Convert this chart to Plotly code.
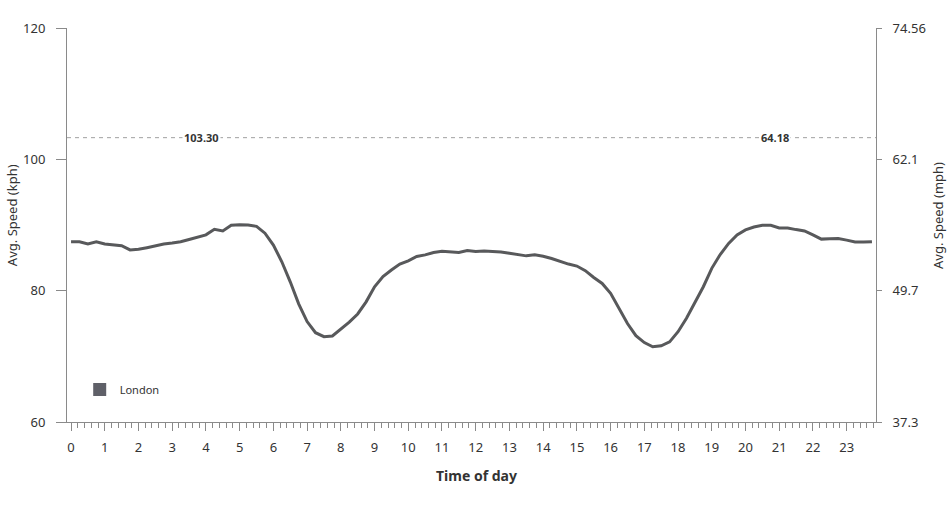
import plotly.graph_objects as go

hours = [i * 0.25 for i in range(96)]
speed_kph = [
    87.45, 87.45, 87.1, 87.45, 87.1, 87.0, 86.85, 86.2,
    86.3, 86.55, 86.85, 87.1, 87.25, 87.45, 87.8, 88.15,
    88.5, 89.35, 89.1, 89.95, 90.05, 90.0, 89.8, 88.75,
    86.95, 84.4, 81.35, 78.0, 75.3, 73.6, 73.0, 73.1,
    74.1, 75.2, 76.45, 78.3, 80.6, 82.15, 83.15, 84.05,
    84.55, 85.2, 85.45, 85.8, 86.0, 85.95, 85.8, 86.1,
    85.95, 86.05, 86.0, 85.9, 85.7, 85.5, 85.3, 85.45,
    85.25, 84.9, 84.45, 84.05, 83.75, 83.05, 82.0, 81.1,
    79.6, 77.3, 75.0, 73.15, 72.1, 71.45, 71.6, 72.2,
    73.75, 75.8, 78.1, 80.6, 83.4, 85.5, 87.2, 88.5,
    89.25, 89.7, 89.95, 89.95, 89.55, 89.55, 89.3, 89.1,
    88.5, 87.85, 87.9, 87.95, 87.7, 87.4, 87.4, 87.45,
]
series_name = "London"
ref_kph = 103.30
ref_mph = 64.18
kph_ticks = [60, 80, 100, 120]
mph_tick_labels = ["37.3", "49.7", "62.1", "74.56"]
x_ticks = list(range(24))
KPH_TO_MPH = 0.621371

x_range = [-0.12, 23.87]
y_range = [60, 120]

line_color = "#58595b"
axis_color = "#8a8a8a"
text_color = "#333333"
font_family = "Noto Sans, Open Sans, sans-serif"

fig = go.Figure()

fig.add_trace(go.Scatter(
    x=x_range, y=[ref_kph, ref_kph], mode="lines",
    line=dict(color="#a0a0a0", width=1, dash="4px,4px"),
    showlegend=False, hoverinfo="skip",
))

fig.add_trace(go.Scatter(
    x=hours, y=speed_kph, mode="lines",
    line=dict(color=line_color, width=3),
    showlegend=False, name=series_name,
))

fig.add_trace(go.Scatter(
    x=[None], y=[None], mode="markers", name=series_name,
    marker=dict(symbol="square", size=13, color="#5f6068"),
    showlegend=True,
))

fig.add_trace(go.Scatter(
    x=hours, y=[v * KPH_TO_MPH for v in speed_kph], mode="lines",
    line=dict(width=0, color="rgba(0,0,0,0)"), yaxis="y2",
    showlegend=False, hoverinfo="skip",
))

fig.add_annotation(x=3.88, y=ref_kph, text=f"<b>{ref_kph:.2f}</b>",
                   showarrow=False, bgcolor="white", xref="x", yref="y",
                   font=dict(size=11, color=text_color, family=font_family))
fig.add_annotation(x=20.88, y=ref_kph, text=f"<b>{ref_mph:.2f}</b>",
                   showarrow=False, bgcolor="white", xref="x", yref="y",
                   font=dict(size=11, color=text_color, family=font_family))

# axis titles
fig.add_annotation(x=-0.068, y=0.525, xref="paper", yref="paper",
                   xanchor="center", yanchor="middle", text="Avg. Speed (kph)",
                   textangle=-90, showarrow=False,
                   font=dict(size=13, color=text_color, family=font_family))
fig.add_annotation(x=1.0764, y=0.525, xref="paper", yref="paper",
                   xanchor="center", yanchor="middle", text="Avg. Speed (mph)",
                   textangle=-90, showarrow=False,
                   font=dict(size=13, color=text_color, family=font_family))
fig.add_annotation(x=0.506, y=-0.137, xref="paper", yref="paper",
                   xanchor="center", yanchor="middle", text="<b>Time of day</b>",
                   showarrow=False,
                   font=dict(size=14, color=text_color, family=font_family))

fig.update_layout(
    width=950, height=506,
    margin=dict(l=67, r=74, t=28, b=84, autoexpand=False),
    paper_bgcolor="white", plot_bgcolor="white",
    font=dict(family=font_family, color=text_color, size=12),
    legend=dict(x=0.0157, y=0.0824, xanchor="left", yanchor="middle",
                bgcolor="rgba(0,0,0,0)", font=dict(size=11, color=text_color)),
    xaxis=dict(
        range=x_range, tickvals=x_ticks, ticks="outside", ticklen=8,
        tickcolor=axis_color, showline=True, linecolor=axis_color, linewidth=1,
        showgrid=False, zeroline=False, tickfont=dict(size=13),
        ticklabelstandoff=5, automargin=False,
        minor=dict(dtick=0.2, tick0=0, ticks="outside", ticklen=5, tickcolor=axis_color),
    ),
    yaxis=dict(
        range=y_range, tickvals=kph_ticks, ticks="outside", ticklen=10,
        tickcolor=axis_color, showline=True, linecolor=axis_color, linewidth=1,
        showgrid=False, zeroline=False, tickfont=dict(size=13),
        ticklabelstandoff=8, automargin=False,
    ),
    yaxis2=dict(
        overlaying="y", side="right", anchor="x",
        range=[y_range[0] * KPH_TO_MPH, y_range[1] * KPH_TO_MPH],
        tickvals=[v * KPH_TO_MPH for v in kph_ticks], ticktext=mph_tick_labels,
        ticks="outside", ticklen=5, tickcolor=axis_color,
        showline=True, linecolor=axis_color, linewidth=1,
        showgrid=False, zeroline=False, tickfont=dict(size=13),
        ticklabelstandoff=8, automargin=False,
    ),
)

fig.write_html("out.html", config={"displayModeBar": False},
               post_script="document.body.style.margin='0';")
